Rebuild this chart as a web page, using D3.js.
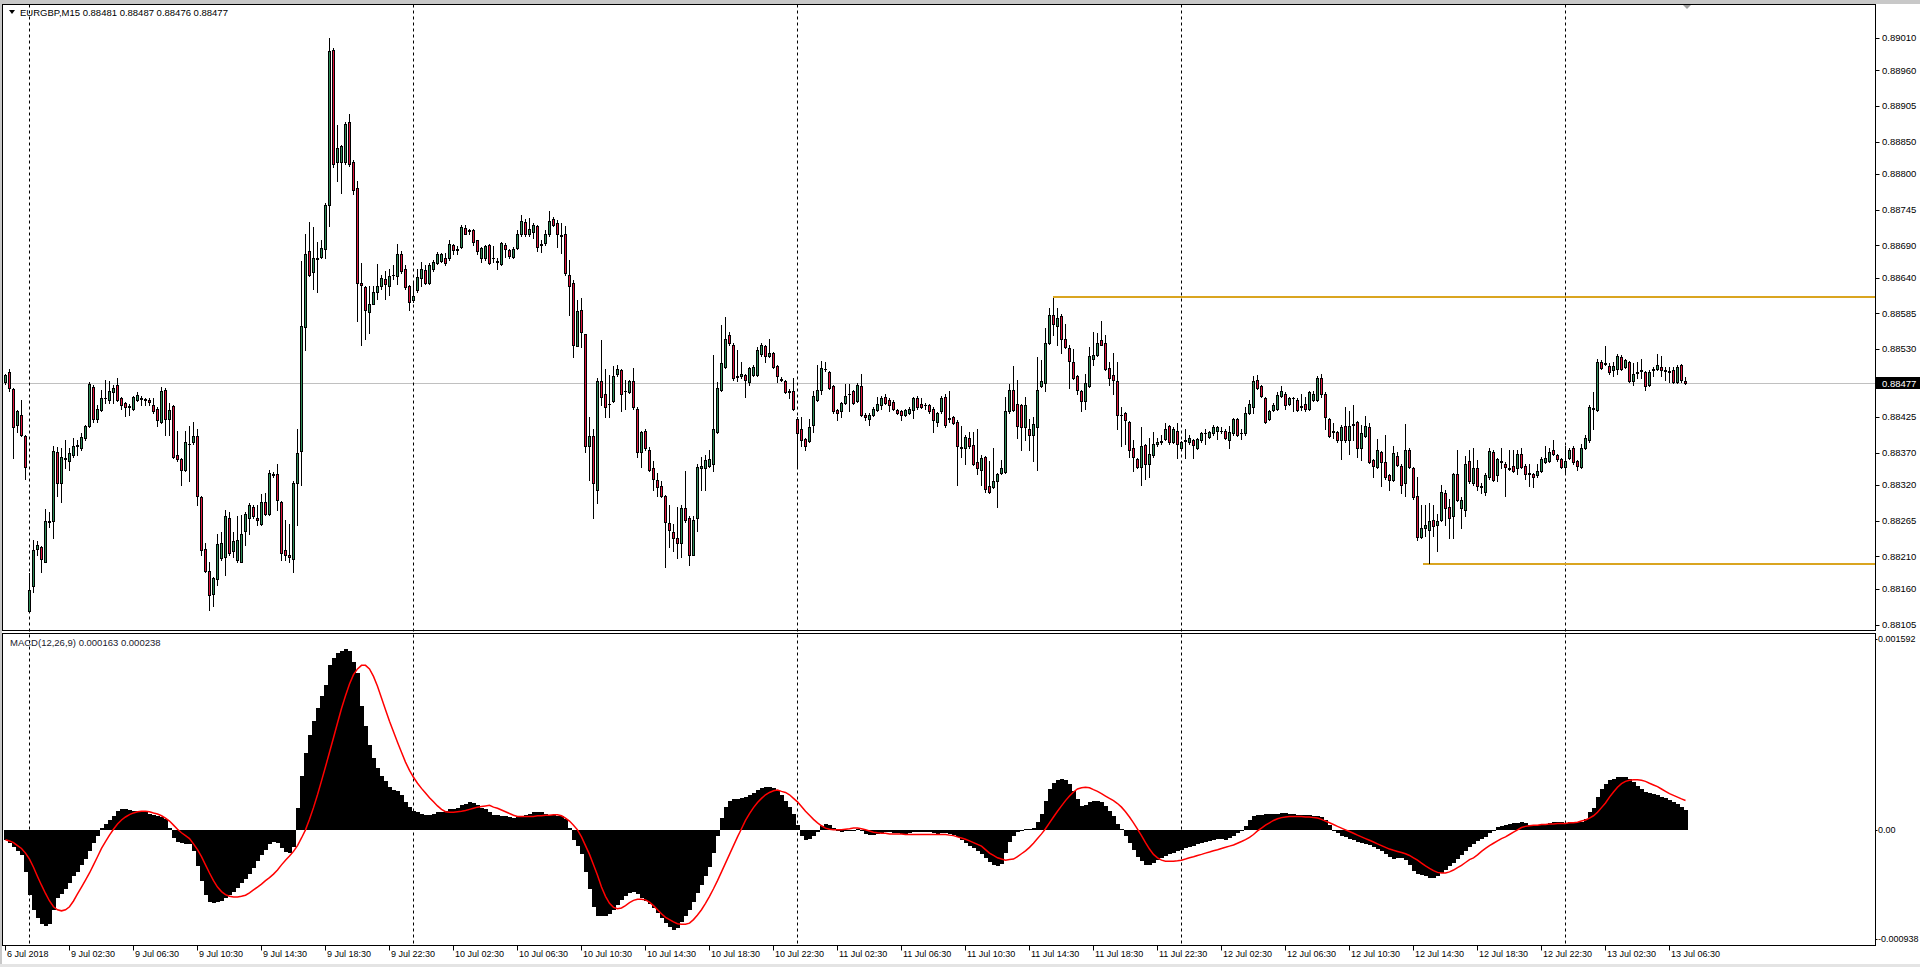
<!DOCTYPE html>
<html><head><meta charset="utf-8">
<script src="https://cdn.jsdelivr.net/npm/d3@7"></script>
<style>
html,body{margin:0;padding:0;background:#fff;overflow:hidden;}
svg{display:block;}
text{font-family:"Liberation Sans",Arial,sans-serif;}
</style></head><body>
<svg id="c" width="1920" height="967"></svg>
<script>
const symbol = "EURGBP,M15";
const macdTitle = "MACD(12,26,9)";

const opens = [
0.88479,0.88494,0.88468,0.88413,0.88429,0.88396,0.88126,0.88164,0.88222,0.88224,
0.88202,0.88263,0.88265,0.88371,0.88324,0.88360,0.88357,0.88366,0.88380,0.88377,
0.88393,0.88411,0.88472,0.88422,0.88436,0.88454,0.88452,0.88463,0.88474,0.88454,
0.88447,0.88441,0.88438,0.88452,0.88454,0.88453,0.88451,0.88443,0.88438,0.88418,
0.88467,0.88422,0.88442,0.88366,0.88360,0.88344,0.88383,0.88386,0.88396,0.88301,
0.88222,0.88188,0.88152,0.88175,0.88207,0.88209,0.88269,0.88218,0.88204,0.88202,
0.88249,0.88269,0.88287,0.88269,0.88260,0.88294,0.88276,0.88337,0.88337,0.88294,
0.88220,0.88213,0.88206,0.88323,0.88373,0.88564,0.88681,0.88649,0.88669,0.88672,
0.88684,0.88753,0.88992,0.88818,0.88818,0.88818,0.88881,0.88819,0.88779,0.88632,
0.88626,0.88587,0.88600,0.88618,0.88627,0.88638,0.88627,0.88644,0.88643,0.88677,
0.88654,0.88627,0.88605,0.88621,0.88639,0.88652,0.88632,0.88654,0.88663,0.88666,
0.88670,0.88670,0.88690,0.88683,0.88688,0.88717,0.88712,0.88713,0.88698,0.88670,
0.88670,0.88690,0.88671,0.88665,0.88661,0.88691,0.88683,0.88672,0.88686,0.88707,
0.88726,0.88708,0.88711,0.88720,0.88691,0.88693,0.88708,0.88731,0.88724,0.88706,
0.88708,0.88645,0.88632,0.88535,0.88591,0.88553,0.88380,0.88396,0.88312,0.88481,
0.88461,0.88446,0.88450,0.88491,0.88497,0.88466,0.88463,0.88481,0.88438,0.88371,
0.88404,0.88374,0.88346,0.88328,0.88319,0.88303,0.88261,0.88247,0.88238,0.88230,
0.88284,0.88269,0.88213,0.88269,0.88346,0.88346,0.88350,0.88353,0.88402,0.88467,
0.88503,0.88551,0.88537,0.88487,0.88488,0.88490,0.88479,0.88490,0.88490,0.88522,
0.88535,0.88519,0.88524,0.88504,0.88484,0.88481,0.88465,0.88465,0.88422,0.88407,
0.88392,0.88388,0.88413,0.88452,0.88467,0.88500,0.88494,0.88473,0.88436,0.88434,
0.88447,0.88460,0.88465,0.88450,0.88473,0.88429,0.88422,0.88429,0.88436,0.88443,
0.88456,0.88452,0.88449,0.88436,0.88434,0.88429,0.88432,0.88436,0.88454,0.88445,
0.88444,0.88443,0.88438,0.88418,0.88434,0.88456,0.88423,0.88425,0.88418,0.88379,
0.88378,0.88393,0.88382,0.88355,0.88344,0.88364,0.88319,0.88317,0.88326,0.88339,
0.88341,0.88434,0.88467,0.88445,0.88443,0.88410,0.88407,0.88398,0.88409,0.88473,
0.88477,0.88540,0.88582,0.88566,0.88581,0.88546,0.88531,0.88510,0.88488,0.88465,
0.88450,0.88473,0.88515,0.88521,0.88544,0.88540,0.88501,0.88490,0.88481,0.88429,
0.88431,0.88418,0.88377,0.88360,0.88348,0.88382,0.88353,0.88366,0.88383,0.88387,
0.88391,0.88411,0.88387,0.88404,0.88378,0.88388,0.88386,0.88389,0.88378,0.88389,
0.88400,0.88395,0.88400,0.88404,0.88404,0.88404,0.88389,0.88400,0.88422,0.88401,
0.88400,0.88432,0.88440,0.88483,0.88473,0.88454,0.88422,0.88436,0.88438,0.88458,
0.88461,0.88446,0.88454,0.88452,0.88442,0.88445,0.88438,0.88452,0.88452,0.88485,
0.88461,0.88422,0.88403,0.88402,0.88389,0.88411,0.88389,0.88413,0.88418,0.88377,
0.88396,0.88409,0.88359,0.88348,0.88371,0.88355,0.88335,0.88328,0.88365,0.88350,
0.88324,0.88374,0.88346,0.88303,0.88240,0.88254,0.88251,0.88267,0.88258,0.88267,
0.88308,0.88287,0.88272,0.88337,0.88284,0.88281,0.88357,0.88324,0.88346,0.88318,
0.88310,0.88332,0.88371,0.88335,0.88357,0.88353,0.88346,0.88350,0.88346,0.88368,
0.88350,0.88339,0.88337,0.88335,0.88342,0.88355,0.88357,0.88374,0.88366,0.88360,
0.88348,0.88362,0.88377,0.88357,0.88348,0.88378,0.88389,0.88439,0.88436,0.88510,
0.88507,0.88504,0.88497,0.88500,0.88518,0.88503,0.88510,0.88481,0.88493,0.88496,
0.88494,0.88474,0.88498,0.88500,0.88503,0.88497,0.88496,0.88497,0.88479,0.88505,
0.88481];

const highs = [
0.88492,0.88499,0.88470,0.88436,0.88451,0.88398,0.88184,0.88236,0.88234,0.88226,
0.88283,0.88278,0.88380,0.88379,0.88377,0.88389,0.88377,0.88393,0.88389,0.88400,
0.88413,0.88479,0.88474,0.88443,0.88467,0.88483,0.88481,0.88474,0.88486,0.88456,
0.88449,0.88445,0.88458,0.88463,0.88458,0.88455,0.88454,0.88454,0.88440,0.88472,
0.88470,0.88447,0.88444,0.88404,0.88362,0.88404,0.88411,0.88418,0.88407,0.88303,
0.88231,0.88202,0.88179,0.88245,0.88247,0.88282,0.88278,0.88247,0.88272,0.88274,
0.88278,0.88293,0.88290,0.88290,0.88306,0.88308,0.88344,0.88341,0.88353,0.88296,
0.88267,0.88260,0.88326,0.88407,0.88666,0.88708,0.88726,0.88719,0.88695,0.88699,
0.88755,0.89010,0.88994,0.88875,0.88845,0.88881,0.88893,0.88821,0.88789,0.88663,
0.88627,0.88627,0.88627,0.88661,0.88645,0.88650,0.88654,0.88659,0.88692,0.88681,
0.88659,0.88629,0.88634,0.88654,0.88665,0.88659,0.88663,0.88668,0.88680,0.88679,
0.88679,0.88699,0.88692,0.88689,0.88722,0.88722,0.88716,0.88715,0.88699,0.88688,
0.88690,0.88692,0.88689,0.88670,0.88695,0.88693,0.88684,0.88687,0.88713,0.88737,
0.88731,0.88733,0.88724,0.88722,0.88699,0.88713,0.88743,0.88734,0.88729,0.88724,
0.88720,0.88668,0.88636,0.88605,0.88609,0.88554,0.88425,0.88407,0.88485,0.88544,
0.88500,0.88490,0.88504,0.88505,0.88500,0.88483,0.88483,0.88501,0.88440,0.88404,
0.88406,0.88379,0.88357,0.88339,0.88326,0.88305,0.88290,0.88260,0.88287,0.88290,
0.88342,0.88272,0.88272,0.88353,0.88364,0.88366,0.88375,0.88521,0.88479,0.88567,
0.88580,0.88557,0.88539,0.88528,0.88510,0.88492,0.88503,0.88505,0.88533,0.88540,
0.88536,0.88546,0.88526,0.88506,0.88487,0.88482,0.88468,0.88485,0.88425,0.88425,
0.88393,0.88422,0.88465,0.88506,0.88512,0.88510,0.88496,0.88474,0.88438,0.88449,
0.88476,0.88476,0.88467,0.88477,0.88492,0.88431,0.88432,0.88440,0.88456,0.88458,
0.88461,0.88454,0.88451,0.88438,0.88436,0.88437,0.88440,0.88456,0.88458,0.88454,
0.88447,0.88445,0.88440,0.88433,0.88458,0.88461,0.88465,0.88427,0.88420,0.88411,
0.88397,0.88402,0.88402,0.88407,0.88366,0.88365,0.88357,0.88377,0.88339,0.88359,
0.88456,0.88476,0.88504,0.88483,0.88445,0.88456,0.88422,0.88425,0.88517,0.88513,
0.88563,0.88593,0.88609,0.88593,0.88584,0.88569,0.88537,0.88530,0.88490,0.88467,
0.88492,0.88533,0.88557,0.88555,0.88573,0.88551,0.88510,0.88524,0.88510,0.88441,
0.88433,0.88419,0.88389,0.88362,0.88409,0.88383,0.88393,0.88402,0.88393,0.88398,
0.88416,0.88413,0.88409,0.88416,0.88388,0.88407,0.88398,0.88391,0.88393,0.88402,
0.88407,0.88404,0.88413,0.88411,0.88409,0.88406,0.88411,0.88424,0.88424,0.88407,
0.88440,0.88452,0.88488,0.88490,0.88474,0.88456,0.88436,0.88447,0.88463,0.88473,
0.88463,0.88456,0.88456,0.88454,0.88461,0.88456,0.88465,0.88465,0.88488,0.88491,
0.88463,0.88424,0.88416,0.88404,0.88413,0.88440,0.88434,0.88443,0.88419,0.88413,
0.88427,0.88416,0.88361,0.88391,0.88373,0.88398,0.88337,0.88380,0.88371,0.88352,
0.88414,0.88377,0.88348,0.88332,0.88290,0.88290,0.88293,0.88290,0.88276,0.88320,
0.88312,0.88299,0.88339,0.88374,0.88301,0.88365,0.88375,0.88377,0.88359,0.88323,
0.88339,0.88377,0.88375,0.88362,0.88377,0.88355,0.88375,0.88375,0.88375,0.88377,
0.88352,0.88353,0.88339,0.88353,0.88364,0.88380,0.88377,0.88389,0.88368,0.88362,
0.88380,0.88377,0.88380,0.88359,0.88383,0.88398,0.88443,0.88464,0.88515,0.88513,
0.88535,0.88508,0.88510,0.88522,0.88521,0.88515,0.88512,0.88509,0.88510,0.88515,
0.88496,0.88497,0.88503,0.88522,0.88519,0.88503,0.88503,0.88503,0.88505,0.88507,
0.88487];

const lows = [
0.88476,0.88465,0.88362,0.88402,0.88396,0.88330,0.88125,0.88155,0.88213,0.88186,
0.88201,0.88256,0.88238,0.88303,0.88294,0.88346,0.88344,0.88364,0.88366,0.88375,
0.88389,0.88409,0.88418,0.88418,0.88434,0.88447,0.88447,0.88447,0.88450,0.88438,
0.88427,0.88429,0.88436,0.88450,0.88443,0.88443,0.88443,0.88432,0.88411,0.88416,
0.88398,0.88398,0.88362,0.88358,0.88321,0.88342,0.88326,0.88384,0.88290,0.88213,
0.88186,0.88128,0.88134,0.88166,0.88204,0.88182,0.88213,0.88209,0.88202,0.88201,
0.88227,0.88245,0.88269,0.88258,0.88258,0.88274,0.88274,0.88332,0.88281,0.88204,
0.88204,0.88202,0.88186,0.88258,0.88321,0.88528,0.88643,0.88623,0.88618,0.88670,
0.88670,0.88720,0.88811,0.88789,0.88771,0.88816,0.88812,0.88770,0.88573,0.88537,
0.88545,0.88555,0.88599,0.88607,0.88623,0.88607,0.88614,0.88638,0.88630,0.88648,
0.88623,0.88590,0.88602,0.88618,0.88627,0.88630,0.88630,0.88650,0.88661,0.88665,
0.88659,0.88668,0.88677,0.88677,0.88686,0.88707,0.88708,0.88690,0.88677,0.88665,
0.88668,0.88661,0.88665,0.88654,0.88659,0.88672,0.88670,0.88670,0.88684,0.88705,
0.88705,0.88704,0.88702,0.88681,0.88680,0.88691,0.88704,0.88720,0.88688,0.88679,
0.88645,0.88582,0.88517,0.88534,0.88533,0.88371,0.88328,0.88270,0.88292,0.88443,
0.88425,0.88425,0.88448,0.88489,0.88434,0.88438,0.88462,0.88438,0.88364,0.88348,
0.88375,0.88342,0.88312,0.88303,0.88301,0.88193,0.88225,0.88218,0.88207,0.88209,
0.88263,0.88197,0.88212,0.88249,0.88312,0.88312,0.88348,0.88342,0.88401,0.88465,
0.88501,0.88537,0.88483,0.88481,0.88486,0.88456,0.88474,0.88488,0.88489,0.88520,
0.88510,0.88518,0.88501,0.88479,0.88481,0.88462,0.88455,0.88436,0.88348,0.88380,
0.88375,0.88386,0.88402,0.88450,0.88461,0.88496,0.88468,0.88432,0.88420,0.88425,
0.88445,0.88434,0.88445,0.88448,0.88427,0.88420,0.88413,0.88427,0.88435,0.88438,
0.88445,0.88434,0.88436,0.88430,0.88420,0.88427,0.88430,0.88423,0.88438,0.88439,
0.88438,0.88432,0.88402,0.88411,0.88432,0.88409,0.88418,0.88414,0.88321,0.88364,
0.88353,0.88378,0.88351,0.88337,0.88321,0.88310,0.88308,0.88315,0.88287,0.88337,
0.88339,0.88432,0.88435,0.88393,0.88375,0.88389,0.88375,0.88357,0.88344,0.88471,
0.88465,0.88538,0.88551,0.88537,0.88524,0.88531,0.88470,0.88484,0.88461,0.88434,
0.88438,0.88471,0.88506,0.88519,0.88536,0.88498,0.88474,0.88461,0.88407,0.88380,
0.88384,0.88364,0.88342,0.88347,0.88321,0.88330,0.88332,0.88364,0.88381,0.88384,
0.88389,0.88384,0.88385,0.88362,0.88376,0.88362,0.88384,0.88362,0.88376,0.88387,
0.88383,0.88393,0.88398,0.88392,0.88401,0.88392,0.88377,0.88398,0.88396,0.88392,
0.88398,0.88430,0.88432,0.88468,0.88456,0.88416,0.88420,0.88435,0.88436,0.88456,
0.88438,0.88444,0.88434,0.88435,0.88436,0.88434,0.88436,0.88450,0.88450,0.88456,
0.88407,0.88394,0.88393,0.88387,0.88360,0.88387,0.88368,0.88389,0.88364,0.88359,
0.88394,0.88354,0.88333,0.88347,0.88319,0.88330,0.88312,0.88326,0.88349,0.88308,
0.88303,0.88347,0.88299,0.88235,0.88239,0.88242,0.88200,0.88242,0.88218,0.88265,
0.88258,0.88239,0.88239,0.88295,0.88254,0.88272,0.88324,0.88321,0.88312,0.88308,
0.88305,0.88330,0.88326,0.88326,0.88346,0.88303,0.88344,0.88340,0.88337,0.88346,
0.88330,0.88319,0.88317,0.88333,0.88340,0.88354,0.88355,0.88366,0.88358,0.88346,
0.88339,0.88360,0.88353,0.88344,0.88346,0.88376,0.88387,0.88407,0.88434,0.88500,
0.88505,0.88492,0.88488,0.88491,0.88498,0.88501,0.88479,0.88474,0.88485,0.88486,
0.88467,0.88473,0.88488,0.88497,0.88488,0.88483,0.88479,0.88477,0.88477,0.88479,
0.88476];

const closes = [
0.88490,0.88470,0.88409,0.88434,0.88398,0.88348,0.88159,0.88220,0.88227,0.88206,
0.88265,0.88265,0.88373,0.88324,0.88364,0.88362,0.88369,0.88380,0.88382,0.88395,
0.88411,0.88476,0.88422,0.88438,0.88454,0.88455,0.88465,0.88470,0.88452,0.88443,
0.88441,0.88442,0.88456,0.88459,0.88453,0.88452,0.88449,0.88434,0.88420,0.88465,
0.88422,0.88436,0.88364,0.88360,0.88344,0.88386,0.88384,0.88396,0.88303,0.88220,
0.88188,0.88150,0.88177,0.88229,0.88230,0.88273,0.88216,0.88234,0.88236,0.88245,
0.88276,0.88290,0.88272,0.88267,0.88294,0.88276,0.88339,0.88335,0.88297,0.88216,
0.88213,0.88209,0.88324,0.88369,0.88566,0.88677,0.88645,0.88670,0.88671,0.88686,
0.88752,0.88990,0.88816,0.88841,0.88843,0.88878,0.88815,0.88776,0.88632,0.88629,
0.88591,0.88600,0.88618,0.88627,0.88639,0.88631,0.88643,0.88645,0.88677,0.88650,
0.88626,0.88603,0.88612,0.88641,0.88654,0.88632,0.88659,0.88665,0.88677,0.88677,
0.88663,0.88692,0.88683,0.88684,0.88719,0.88708,0.88713,0.88695,0.88681,0.88686,
0.88689,0.88663,0.88670,0.88666,0.88693,0.88684,0.88674,0.88685,0.88708,0.88728,
0.88707,0.88715,0.88722,0.88688,0.88692,0.88707,0.88728,0.88722,0.88707,0.88704,
0.88648,0.88627,0.88537,0.88589,0.88557,0.88380,0.88396,0.88324,0.88481,0.88456,
0.88441,0.88445,0.88489,0.88500,0.88461,0.88465,0.88481,0.88440,0.88371,0.88402,
0.88377,0.88344,0.88330,0.88317,0.88303,0.88263,0.88251,0.88238,0.88230,0.88284,
0.88267,0.88212,0.88267,0.88348,0.88350,0.88359,0.88360,0.88407,0.88470,0.88509,
0.88546,0.88539,0.88485,0.88488,0.88492,0.88483,0.88501,0.88503,0.88528,0.88537,
0.88519,0.88524,0.88503,0.88488,0.88483,0.88464,0.88464,0.88438,0.88400,0.88389,
0.88380,0.88409,0.88458,0.88467,0.88501,0.88499,0.88470,0.88434,0.88431,0.88447,
0.88458,0.88461,0.88447,0.88474,0.88429,0.88425,0.88429,0.88438,0.88446,0.88454,
0.88447,0.88443,0.88438,0.88432,0.88429,0.88436,0.88438,0.88454,0.88440,0.88441,
0.88443,0.88434,0.88420,0.88431,0.88454,0.88413,0.88422,0.88416,0.88380,0.88378,
0.88395,0.88380,0.88353,0.88346,0.88362,0.88314,0.88310,0.88326,0.88337,0.88346,
0.88434,0.88467,0.88436,0.88411,0.88409,0.88443,0.88398,0.88414,0.88467,0.88481,
0.88540,0.88582,0.88569,0.88578,0.88546,0.88533,0.88512,0.88486,0.88467,0.88450,
0.88477,0.88519,0.88521,0.88539,0.88537,0.88500,0.88486,0.88483,0.88429,0.88428,
0.88420,0.88375,0.88364,0.88348,0.88380,0.88353,0.88368,0.88384,0.88386,0.88388,
0.88407,0.88386,0.88407,0.88383,0.88386,0.88389,0.88393,0.88382,0.88391,0.88400,
0.88401,0.88402,0.88409,0.88409,0.88403,0.88393,0.88402,0.88422,0.88398,0.88400,
0.88432,0.88445,0.88481,0.88470,0.88458,0.88418,0.88434,0.88443,0.88459,0.88465,
0.88443,0.88454,0.88455,0.88436,0.88441,0.88438,0.88463,0.88461,0.88485,0.88461,
0.88425,0.88396,0.88402,0.88389,0.88409,0.88389,0.88411,0.88414,0.88378,0.88401,
0.88411,0.88355,0.88350,0.88374,0.88355,0.88332,0.88328,0.88369,0.88351,0.88321,
0.88375,0.88348,0.88301,0.88240,0.88254,0.88258,0.88265,0.88257,0.88265,0.88310,
0.88284,0.88270,0.88337,0.88297,0.88297,0.88353,0.88326,0.88346,0.88319,0.88317,
0.88335,0.88373,0.88328,0.88360,0.88356,0.88348,0.88345,0.88342,0.88368,0.88348,
0.88337,0.88338,0.88332,0.88342,0.88360,0.88362,0.88371,0.88368,0.88360,0.88348,
0.88357,0.88375,0.88355,0.88350,0.88378,0.88393,0.88440,0.88438,0.88510,0.88501,
0.88508,0.88494,0.88504,0.88519,0.88500,0.88513,0.88481,0.88492,0.88494,0.88497,
0.88473,0.88494,0.88499,0.88506,0.88497,0.88496,0.88495,0.88479,0.88503,0.88483,
0.88477];

const macdMain = [
-80e-6,-104e-6,-142e-6,-175e-6,-208e-6,-341e-6,-530e-6,-648e-6,-719e-6,-766e-6,
-776e-6,-766e-6,-648e-6,-553e-6,-520e-6,-482e-6,-435e-6,-378e-6,-341e-6,-284e-6,
-237e-6,-175e-6,-104e-6,-47e-6,14e-6,47e-6,76e-6,109e-6,151e-6,166e-6,
166e-6,161e-6,156e-6,151e-6,147e-6,142e-6,132e-6,123e-6,109e-6,104e-6,
85e-6,14e-6,-66e-6,-95e-6,-104e-6,-114e-6,-118e-6,-175e-6,-293e-6,-412e-6,
-530e-6,-587e-6,-591e-6,-587e-6,-577e-6,-553e-6,-530e-6,-506e-6,-473e-6,-435e-6,
-397e-6,-355e-6,-307e-6,-255e-6,-208e-6,-161e-6,-118e-6,-95e-6,-104e-6,-151e-6,
-180e-6,-189e-6,-142e-6,180e-6,440e-6,620e-6,771e-6,880e-6,984e-6,1088e-6,
1173e-6,1339e-6,1395e-6,1433e-6,1447e-6,1466e-6,1447e-6,1362e-6,1268e-6,1007e-6,
842e-6,691e-6,582e-6,501e-6,440e-6,393e-6,345e-6,322e-6,312e-6,284e-6,
227e-6,189e-6,156e-6,142e-6,132e-6,123e-6,123e-6,132e-6,142e-6,147e-6,
151e-6,166e-6,170e-6,180e-6,199e-6,213e-6,227e-6,218e-6,203e-6,180e-6,
166e-6,147e-6,123e-6,118e-6,114e-6,109e-6,104e-6,99e-6,104e-6,114e-6,
123e-6,132e-6,142e-6,147e-6,142e-6,132e-6,123e-6,118e-6,114e-6,109e-6,
85e-6,14e-6,-80e-6,-128e-6,-199e-6,-341e-6,-482e-6,-624e-6,-695e-6,-695e-6,
-695e-6,-681e-6,-653e-6,-610e-6,-568e-6,-534e-6,-516e-6,-501e-6,-520e-6,-549e-6,
-577e-6,-601e-6,-634e-6,-672e-6,-714e-6,-752e-6,-790e-6,-814e-6,-795e-6,-747e-6,
-700e-6,-653e-6,-587e-6,-516e-6,-445e-6,-374e-6,-303e-6,-189e-6,-47e-6,95e-6,
189e-6,237e-6,251e-6,251e-6,255e-6,265e-6,284e-6,298e-6,322e-6,336e-6,
345e-6,345e-6,336e-6,322e-6,284e-6,237e-6,189e-6,132e-6,38e-6,-47e-6,
-80e-6,-71e-6,-47e-6,-19e-6,28e-6,47e-6,38e-6,14e-6,-9e-6,-14e-6,
-5e-6,0,0,9e-6,-9e-6,-33e-6,-38e-6,-38e-6,-33e-6,-24e-6,
-19e-6,-19e-6,-24e-6,-28e-6,-33e-6,-33e-6,-28e-6,-19e-6,-14e-6,-14e-6,
-14e-6,-19e-6,-28e-6,-33e-6,-24e-6,-28e-6,-33e-6,-43e-6,-57e-6,-80e-6,
-104e-6,-128e-6,-151e-6,-175e-6,-199e-6,-232e-6,-260e-6,-284e-6,-293e-6,-279e-6,
-189e-6,-95e-6,-47e-6,-19e-6,0,9e-6,9e-6,14e-6,61e-6,132e-6,
237e-6,331e-6,378e-6,407e-6,416e-6,407e-6,369e-6,312e-6,246e-6,194e-6,
203e-6,227e-6,237e-6,237e-6,227e-6,194e-6,151e-6,109e-6,47e-6,5e-6,
-47e-6,-104e-6,-161e-6,-218e-6,-255e-6,-284e-6,-289e-6,-265e-6,-241e-6,-227e-6,
-213e-6,-199e-6,-184e-6,-175e-6,-161e-6,-151e-6,-137e-6,-128e-6,-118e-6,-104e-6,
-95e-6,-90e-6,-80e-6,-76e-6,-71e-6,-80e-6,-66e-6,-47e-6,-24e-6,0,
28e-6,76e-6,109e-6,118e-6,123e-6,128e-6,132e-6,132e-6,132e-6,137e-6,
137e-6,132e-6,128e-6,123e-6,123e-6,118e-6,118e-6,114e-6,114e-6,104e-6,
76e-6,38e-6,0,-24e-6,-47e-6,-61e-6,-76e-6,-85e-6,-95e-6,-104e-6,
-114e-6,-123e-6,-137e-6,-156e-6,-175e-6,-199e-6,-222e-6,-237e-6,-227e-6,-232e-6,
-246e-6,-284e-6,-331e-6,-355e-6,-369e-6,-378e-6,-388e-6,-388e-6,-378e-6,-350e-6,
-322e-6,-293e-6,-265e-6,-237e-6,-208e-6,-170e-6,-142e-6,-114e-6,-90e-6,-76e-6,
-61e-6,-28e-6,-5e-6,19e-6,33e-6,43e-6,47e-6,52e-6,57e-6,61e-6,
52e-6,43e-6,38e-6,38e-6,43e-6,47e-6,52e-6,61e-6,66e-6,61e-6,
57e-6,61e-6,61e-6,61e-6,66e-6,85e-6,142e-6,180e-6,265e-6,331e-6,
369e-6,402e-6,416e-6,426e-6,430e-6,430e-6,416e-6,388e-6,359e-6,331e-6,
307e-6,298e-6,289e-6,279e-6,270e-6,260e-6,241e-6,227e-6,208e-6,189e-6,
163e-6];

const macdSignal = [
-80e-6,-90e-6,-104e-6,-128e-6,-151e-6,-189e-6,-237e-6,-303e-6,-378e-6,-449e-6,
-516e-6,-577e-6,-624e-6,-648e-6,-657e-6,-648e-6,-624e-6,-577e-6,-520e-6,-464e-6,
-407e-6,-350e-6,-284e-6,-218e-6,-151e-6,-95e-6,-43e-6,5e-6,47e-6,80e-6,
104e-6,123e-6,137e-6,147e-6,151e-6,151e-6,147e-6,137e-6,128e-6,114e-6,
95e-6,71e-6,38e-6,5e-6,-24e-6,-47e-6,-71e-6,-114e-6,-161e-6,-218e-6,
-284e-6,-350e-6,-412e-6,-464e-6,-501e-6,-525e-6,-539e-6,-544e-6,-544e-6,-539e-6,
-530e-6,-511e-6,-487e-6,-464e-6,-440e-6,-412e-6,-388e-6,-359e-6,-326e-6,-284e-6,
-246e-6,-213e-6,-175e-6,-128e-6,-66e-6,0,85e-6,180e-6,284e-6,397e-6,
511e-6,629e-6,747e-6,866e-6,984e-6,1088e-6,1183e-6,1258e-6,1305e-6,1334e-6,
1334e-6,1305e-6,1244e-6,1164e-6,1069e-6,974e-6,880e-6,795e-6,710e-6,629e-6,
549e-6,482e-6,426e-6,378e-6,336e-6,298e-6,260e-6,227e-6,194e-6,166e-6,
147e-6,142e-6,142e-6,147e-6,151e-6,156e-6,166e-6,175e-6,184e-6,189e-6,
194e-6,199e-6,184e-6,175e-6,161e-6,147e-6,132e-6,118e-6,109e-6,109e-6,
109e-6,109e-6,109e-6,114e-6,114e-6,118e-6,118e-6,123e-6,123e-6,114e-6,
95e-6,71e-6,38e-6,0,-57e-6,-128e-6,-199e-6,-284e-6,-369e-6,-464e-6,
-539e-6,-596e-6,-629e-6,-639e-6,-634e-6,-615e-6,-591e-6,-572e-6,-563e-6,-563e-6,
-568e-6,-587e-6,-615e-6,-648e-6,-681e-6,-710e-6,-728e-6,-747e-6,-762e-6,-766e-6,
-766e-6,-757e-6,-728e-6,-691e-6,-648e-6,-596e-6,-539e-6,-478e-6,-412e-6,-341e-6,
-270e-6,-199e-6,-128e-6,-57e-6,9e-6,76e-6,132e-6,180e-6,222e-6,255e-6,
284e-6,303e-6,317e-6,322e-6,312e-6,303e-6,284e-6,255e-6,227e-6,189e-6,
151e-6,118e-6,85e-6,57e-6,33e-6,14e-6,5e-6,0,0,0,
5e-6,9e-6,14e-6,14e-6,9e-6,0,-9e-6,-19e-6,-24e-6,-28e-6,
-28e-6,-33e-6,-33e-6,-33e-6,-33e-6,-38e-6,-38e-6,-38e-6,-38e-6,-38e-6,
-38e-6,-38e-6,-38e-6,-38e-6,-38e-6,-38e-6,-43e-6,-47e-6,-57e-6,-66e-6,
-76e-6,-90e-6,-104e-6,-118e-6,-132e-6,-161e-6,-189e-6,-208e-6,-227e-6,-237e-6,
-246e-6,-241e-6,-237e-6,-218e-6,-194e-6,-170e-6,-142e-6,-109e-6,-71e-6,-33e-6,
9e-6,57e-6,104e-6,151e-6,194e-6,237e-6,274e-6,307e-6,331e-6,341e-6,
345e-6,341e-6,326e-6,312e-6,293e-6,274e-6,255e-6,237e-6,213e-6,184e-6,
147e-6,104e-6,57e-6,5e-6,-47e-6,-104e-6,-156e-6,-199e-6,-227e-6,-246e-6,
-255e-6,-255e-6,-255e-6,-251e-6,-246e-6,-237e-6,-227e-6,-218e-6,-208e-6,-199e-6,
-189e-6,-180e-6,-170e-6,-161e-6,-151e-6,-142e-6,-132e-6,-123e-6,-109e-6,-95e-6,
-80e-6,-61e-6,-38e-6,-9e-6,14e-6,38e-6,57e-6,76e-6,90e-6,99e-6,
104e-6,109e-6,109e-6,109e-6,109e-6,104e-6,104e-6,99e-6,95e-6,85e-6,
71e-6,57e-6,43e-6,28e-6,14e-6,0,-14e-6,-28e-6,-43e-6,-57e-6,
-71e-6,-85e-6,-99e-6,-114e-6,-128e-6,-142e-6,-156e-6,-166e-6,-175e-6,-184e-6,
-194e-6,-208e-6,-227e-6,-246e-6,-270e-6,-293e-6,-312e-6,-331e-6,-345e-6,-350e-6,
-350e-6,-341e-6,-326e-6,-307e-6,-289e-6,-265e-6,-241e-6,-227e-6,-203e-6,-175e-6,
-151e-6,-128e-6,-109e-6,-90e-6,-71e-6,-57e-6,-38e-6,-19e-6,0,19e-6,
28e-6,33e-6,38e-6,38e-6,43e-6,43e-6,47e-6,47e-6,52e-6,52e-6,
52e-6,57e-6,57e-6,61e-6,71e-6,80e-6,95e-6,114e-6,142e-6,180e-6,
218e-6,265e-6,307e-6,345e-6,374e-6,393e-6,402e-6,407e-6,407e-6,402e-6,
393e-6,378e-6,364e-6,350e-6,331e-6,312e-6,293e-6,279e-6,265e-6,251e-6,
238e-6];

const priceTicks = [0.89010,0.88960,0.88905,0.88850,0.88800,0.88745,0.88690,0.88640,0.88585,0.88530,
                    0.88425,0.88370,0.88320,0.88265,0.88210,0.88160,0.88105];
const macdRange = [-0.000938, 0.001592];
const timeLabels = ["6 Jul 2018","9 Jul 02:30","9 Jul 06:30","9 Jul 10:30","9 Jul 14:30","9 Jul 18:30","9 Jul 22:30",
  "10 Jul 02:30","10 Jul 06:30","10 Jul 10:30","10 Jul 14:30","10 Jul 18:30","10 Jul 22:30",
  "11 Jul 02:30","11 Jul 06:30","11 Jul 10:30","11 Jul 14:30","11 Jul 18:30","11 Jul 22:30",
  "12 Jul 02:30","12 Jul 06:30","12 Jul 10:30","12 Jul 14:30","12 Jul 18:30","12 Jul 22:30",
  "13 Jul 02:30","13 Jul 06:30"];
const timeLabelBars = [0,16,32,48,64,80,96,112,128,144,160,176,192,208,224,240,256,272,288,304,320,336,352,368,384,400,416];
const daySeparatorBars = [6,102,198,294,390];
const levelLines = [{fromBar:262, price:0.88610},{fromBar:354.5, price:0.88199}];

// ---------- layout ----------
const W=1920,H=967;
const fL=2.5, fR=1875.5, mT=4.5, mB=630.5, sT=633.5, sB=945.5;
const n = closes.length;
const svg = d3.select('#c');
svg.append('rect').attr('width',W).attr('height',H).attr('fill','#fff');
svg.append('rect').attr('x',0).attr('y',0).attr('width',W).attr('height',4).attr('fill','#c8c8c8');
svg.append('rect').attr('x',0).attr('y',0).attr('width',2).attr('height',H).attr('fill','#c8c8c8');
svg.append('rect').attr('x',0).attr('y',964).attr('width',W).attr('height',3).attr('fill','#e4e4e4');

const x = d3.scaleLinear().domain([0, n-1]).range([5, 5+4*(n-1)]);
const y = d3.scaleLinear().domain([priceTicks[priceTicks.length-1], priceTicks[0]]).range([624.5, 38]);
const ym = d3.scaleLinear().domain(macdRange).range([sB, sT]);
const px = i => Math.round(x(i));

svg.append('defs').append('clipPath').attr('id','clipMain').append('rect')
  .attr('x',fL).attr('y',mT).attr('width',fR-fL).attr('height',mB-mT);
svg.select('defs').append('clipPath').attr('id','clipSub').append('rect')
  .attr('x',fL).attr('y',sT).attr('width',fR-fL).attr('height',sB-sT);

// current price line
const curY = Math.round(y(closes[n-1]))+0.5;
svg.append('line').attr('x1',fL).attr('x2',fR).attr('y1',curY).attr('y2',curY)
  .attr('stroke','#c0c0c0').attr('stroke-width',1);

// day separators
svg.append('g').selectAll('line').data(daySeparatorBars).join('line')
  .attr('x1',d=>px(d)+0.5).attr('x2',d=>px(d)+0.5).attr('y1',mT).attr('y2',sB)
  .attr('stroke','#000').attr('stroke-width',1).attr('stroke-dasharray','3,3');

// level lines
svg.append('g').selectAll('line').data(levelLines).join('line')
  .attr('x1',d=>x(d.fromBar)).attr('x2',fR).attr('y1',d=>Math.round(y(d.price))).attr('y2',d=>Math.round(y(d.price)))
  .attr('stroke','#daa520').attr('stroke-width',2);

// candles
const cg = svg.append('g').attr('clip-path','url(#clipMain)');
const idx = d3.range(n);
cg.selectAll('line.w').data(idx).join('line').attr('class','w')
  .attr('x1',i=>px(i)+0.5).attr('x2',i=>px(i)+0.5)
  .attr('y1',i=>Math.round(y(highs[i]))).attr('y2',i=>Math.round(y(lows[i]))+1)
  .attr('stroke','#000').attr('stroke-width',1);
const bodyTop = i => Math.round(Math.min(y(opens[i]),y(closes[i])));
const bodyBot = i => Math.round(Math.max(y(opens[i]),y(closes[i])));
const bodies = idx.filter(i=>bodyBot(i)-bodyTop(i)>=1);
const dojis = idx.filter(i=>bodyBot(i)-bodyTop(i)<1);
cg.selectAll('rect.b').data(bodies).join('rect').attr('class','b')
  .attr('x',i=>px(i)-0.5).attr('width',2)
  .attr('y',i=>bodyTop(i)+0.5).attr('height',i=>bodyBot(i)-bodyTop(i))
  .attr('fill',i=>closes[i]>=opens[i]?'#2e8b57':'#dc143c')
  .attr('stroke','#000').attr('stroke-width',1);
cg.selectAll('line.d').data(dojis).join('line').attr('class','d')
  .attr('x1',i=>px(i)-1).attr('x2',i=>px(i)+2)
  .attr('y1',i=>bodyTop(i)+0.5).attr('y2',i=>bodyTop(i)+0.5)
  .attr('stroke','#000').attr('stroke-width',1);

// MACD histogram
const sg = svg.append('g').attr('clip-path','url(#clipSub)');
const z0 = Math.round(ym(0));
sg.selectAll('rect.h').data(idx).join('rect').attr('class','h')
  .attr('x',i=>px(i)-1).attr('width',4)
  .attr('y',i=>{const v=Math.round(ym(macdMain[i])); return Math.min(v,z0);})
  .attr('height',i=>Math.max(Math.abs(Math.round(ym(macdMain[i]))-z0),1))
  .attr('fill','#000');
sg.append('path').datum(idx)
  .attr('d', d3.line().x(i=>px(i)+0.5).y(i=>ym(macdSignal[i])))
  .attr('fill','none').attr('stroke','#ff0000').attr('stroke-width',1.5);

// frames
svg.append('rect').attr('x',fL).attr('y',mT).attr('width',fR-fL).attr('height',mB-mT)
  .attr('fill','none').attr('stroke','#000');
svg.append('rect').attr('x',fL).attr('y',sT).attr('width',fR-fL).attr('height',sB-sT)
  .attr('fill','none').attr('stroke','#000');

// price axis
const pa = svg.append('g');
pa.selectAll('line').data(priceTicks).join('line')
  .attr('x1',fR).attr('x2',fR+4).attr('y1',d=>Math.round(y(d))+0.5).attr('y2',d=>Math.round(y(d))+0.5)
  .attr('stroke','#000');
pa.selectAll('text').data(priceTicks).join('text')
  .attr('x',1882).attr('y',d=>y(d)).attr('dy','0.35em')
  .attr('font-size','9.5px').attr('fill','#000').text(d=>d.toFixed(5));
// current price box
svg.append('rect').attr('x',1876).attr('y',curY-6.5).attr('width',44).attr('height',12).attr('fill','#000');
svg.append('text').attr('x',1882).attr('y',curY).attr('dy','0.35em').attr('font-size','9.5px')
  .attr('fill','#fff').text(closes[n-1].toFixed(5));

// macd axis
const macdAxisVals = [{v:macdRange[1],yy:639,t:macdRange[1].toFixed(6)},{v:0,yy:ym(0),t:'0.00'},{v:macdRange[0],yy:939,t:macdRange[0].toFixed(6)}];
svg.append('g').selectAll('text').data(macdAxisVals).join('text')
  .attr('x',1878).attr('y',d=>d.yy).attr('dy','0.35em').attr('font-size','9px').attr('fill','#000').text(d=>d.t);
svg.append('g').selectAll('line').data(macdAxisVals).join('line')
  .attr('x1',fR).attr('x2',fR+2).attr('y1',d=>Math.round(d.yy)+0.5).attr('y2',d=>Math.round(d.yy)+0.5).attr('stroke','#000');

// time axis
const ta = svg.append('g');
ta.selectAll('line').data(timeLabelBars).join('line')
  .attr('x1',d=>px(d)+0.5).attr('x2',d=>px(d)+0.5).attr('y1',sB).attr('y2',sB+5).attr('stroke','#000');
ta.selectAll('text').data(timeLabels).join('text')
  .attr('x',(d,k)=>px(timeLabelBars[k])+2).attr('y',957)
  .attr('font-size','9px').attr('fill','#000').text(d=>d);

// headers
svg.append('path').attr('d','M9,10L15,10L12,14Z').attr('fill','#000');
svg.append('text').attr('x',20).attr('y',16).attr('font-size','9.5px').attr('fill','#000')
  .text(symbol+'  '+[opens[n-1],highs[n-1],lows[n-1],closes[n-1]].map(v=>v.toFixed(5)).join(' '));
svg.append('text').attr('x',10).attr('y',645.5).attr('font-size','9.5px').attr('fill','#1a1a2e')
  .text(macdTitle+' '+macdMain[n-1].toFixed(6)+' '+macdSignal[n-1].toFixed(6));
// chart shift marker
svg.append('path').attr('d','M1683,5L1691,5L1687,9Z').attr('fill','#a0a0a0');
</script>
</body></html>
